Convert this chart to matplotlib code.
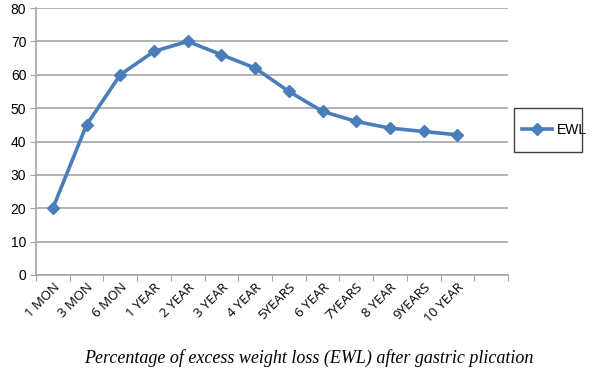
import matplotlib.pyplot as plt
from matplotlib.patches import Rectangle

periods = ["1 MON", "3 MON", "6 MON", "1 YEAR", "2 YEAR", "3 YEAR", "4 YEAR",
           "5YEARS", "6 YEAR", "7YEARS", "8 YEAR", "9YEARS", "10 YEAR"]
ewl = [20, 45, 60, 67, 70, 66, 62, 55, 49, 46, 44, 43, 42]
n_slots = 14  # chart has one empty category slot at the end

fig = plt.figure(figsize=(5.98, 3.84), dpi=100)
ax = fig.add_axes([36 / 598, 1 - 275 / 384, (508 - 36) / 598, (275 - 8) / 384])

x = [i + 0.5 for i in range(len(ewl))]
ax.plot(x, ewl, color="#4a7ebb", lw=2.6, marker="D", ms=6, label="EWL")

ax.set_xlim(0, n_slots)
ax.set_ylim(0, 80)
ax.set_yticks(range(0, 81, 10))
ax.yaxis.grid(True, color="#a6a6a6", lw=1.2)
ax.set_axisbelow(True)

ax.set_xticks(range(n_slots + 1))
ax.set_xticklabels([])
ax.set_xticks(x, minor=True)
ax.set_xticklabels(periods, minor=True, rotation=45, ha="right",
                   rotation_mode="anchor", fontsize=9.5, family="Open Sans")
ax.tick_params(axis="x", which="minor", length=0, pad=4)
ax.tick_params(axis="x", which="major", length=4, color="#a6a6a6", direction="out")
ax.tick_params(axis="y", length=4, color="#a6a6a6", labelsize=10, pad=3)
for lbl in ax.get_yticklabels():
    lbl.set_family("Liberation Sans")

for side in ["top", "right"]:
    ax.spines[side].set_visible(False)
for side in ["left", "bottom"]:
    ax.spines[side].set_color("#a6a6a6")
    ax.spines[side].set_linewidth(1.2)

# legend box drawn by hand to match the narrow Excel frame
fig.patches.append(Rectangle((514 / 598, 1 - 152 / 384), 68 / 598, 44 / 384,
                             transform=fig.transFigure, fill=False,
                             edgecolor="#404040", lw=1.0))
ax.legend(loc="center left", bbox_to_anchor=(512 / 598, 1 - 130 / 384),
          bbox_transform=fig.transFigure, frameon=False,
          prop={"family": "Liberation Sans", "size": 10},
          handlelength=2.2, handletextpad=0.3, borderpad=0.2)

fig.text(0.517, 1 - 358 / 384, "Percentage of excess weight loss (EWL) after gastric plication",
         ha="center", va="center", fontsize=13, family="Liberation Serif",
         style="italic")

fig.savefig("out.png", dpi=100)
